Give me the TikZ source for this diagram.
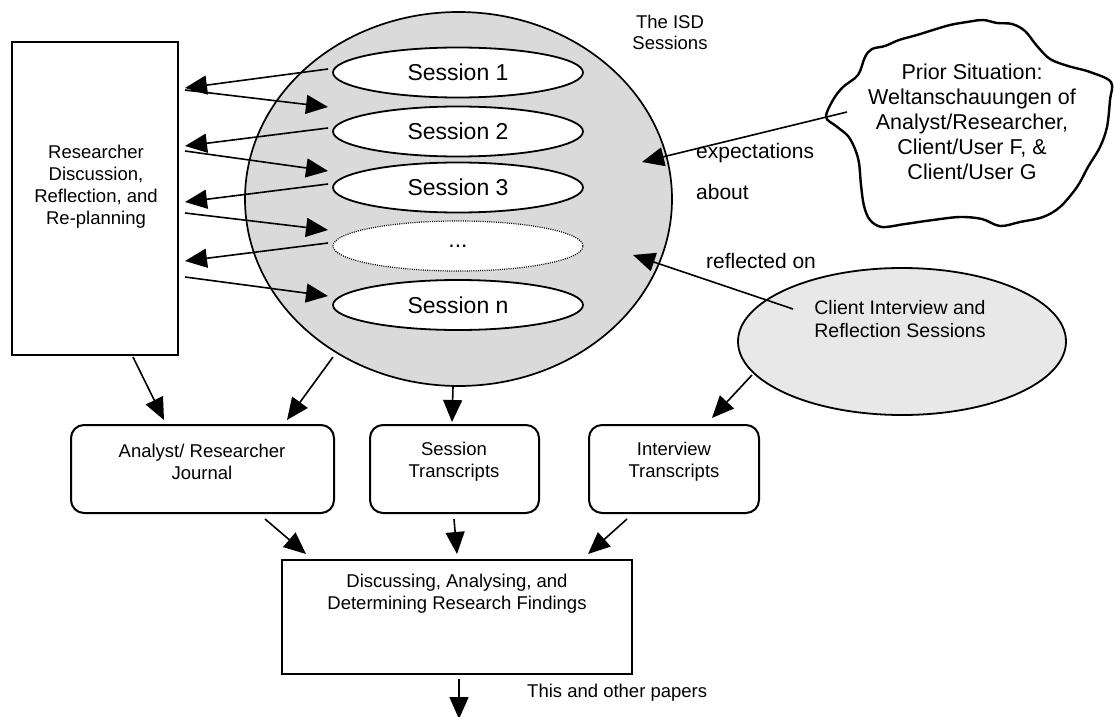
\documentclass[tikz,border=0pt]{standalone}
\usepackage{fontspec}
\setmainfont{Liberation Sans}
\usetikzlibrary{arrows.meta,shapes.geometric}
\definecolor{isdgray}{RGB}{218,218,218}
\definecolor{cligray}{RGB}{232,232,232}
\begin{document}
\begin{tikzpicture}[x=1pt,y=-1pt,
  arr/.style={line width=1.6pt,-{Triangle[length=22pt,width=19pt]}},
  txt/.style={align=center,inner sep=0pt,font=\fontsize{18.5}{22}\selectfont},
  bigtxt/.style={inner sep=0pt,font=\fontsize{21}{25}\selectfont},
  sess/.style={draw,ellipse,line width=1.8pt,fill=white,minimum width=250pt,minimum height=50pt,inner sep=0pt,font=\fontsize{23}{26}\selectfont},
  rbox/.style={draw,rounded corners=13pt,line width=2pt,minimum height=88pt,inner sep=0pt},
  sbox/.style={draw,line width=1.9pt,inner sep=0pt},
]
\useasboundingbox (0,0) rectangle (1114,717);

% left box
\node[sbox,minimum width=166pt,minimum height=313pt] (R) at (95,198.5) {};
\node[txt] (Rt) at (96,187) {Researcher\\Discussion,\\Reflection, and\\Re-planning};

% big ISD circle
\node[draw,ellipse,fill=isdgray,line width=1.7pt,minimum width=427pt,minimum height=374pt,inner sep=0pt] (C) at (458.5,199) {};
\node[txt,font=\fontsize{18.5}{21}\selectfont] (Ct) at (670,32.5) {The ISD\\Sessions};

% sessions
\node[sess] (s1) at (458,72.5) {Session 1};
\node[sess] (s2) at (458,131.5) {Session 2};
\node[sess] (s3) at (458,187.5) {Session 3};
\node[sess,line width=1.2pt,dash pattern=on 1pt off 1.2pt] (s4) at (458,246) {...};
\node[sess] (sn) at (458,305) {Session n};

% arrow end points between left box and sessions
\coordinate (a1) at (328,69);  \coordinate (b1) at (185,88);
\coordinate (a2) at (185,90);  \coordinate (b2) at (328,107);
\coordinate (a3) at (328,128); \coordinate (b3) at (185,146);
\coordinate (a4) at (185,151); \coordinate (b4) at (328,171);
\coordinate (a5) at (328,184); \coordinate (b5) at (185,202);
\coordinate (a6) at (185,213); \coordinate (b6) at (328,230);
\coordinate (a7) at (328,243); \coordinate (b7) at (185,261);
\coordinate (a8) at (185,277); \coordinate (b8) at (328,296);
\foreach \i in {1,...,8} {\draw[arr] (a\i) -- (b\i);}

% cloud
\draw[line width=2.4pt,line join=round,fill=white] plot[smooth cycle,tension=0.55] coordinates {
(826,117) (833,100) (843,87) (858,75) (865,57) (872,49) (885,46) (899,40) (917,35) (933,30) (950,25) (967,22) (983,20) (997,23) (1012,24) (1025,31) (1037,46) (1050,59) (1068,66) (1090,72) (1111,82) (1110,100) (1107,127) (1100,147) (1088,167) (1077,187) (1060,207) (1043,217) (1020,222) (1000,226) (982,219) (960,217) (933,220) (905,224) (882,227) (870,220) (864,206) (861,185) (859,163) (855,149) (848,136) (836,126)};
\node[align=center,inner sep=0pt,font=\fontsize{21.5}{25}\selectfont] (P) at (972,122) {Prior Situation:\\Weltanschauungen of\\Analyst/Researcher,\\Client/User F, \&\\Client/User G};

\coordinate (pe) at (847,112); \coordinate (ce) at (642,162);
\draw[arr] (pe) -- (ce);
\node[bigtxt,anchor=west] (exp) at (696,153) {expectations};
\node[bigtxt,anchor=west] (abt) at (696,192) {about};

% client interview ellipse
\node[draw,ellipse,fill=cligray,line width=1.8pt,minimum width=328pt,minimum height=147pt,inner sep=0pt] (CI) at (902,341.5) {};
\node[align=center,inner sep=0pt,font=\fontsize{19.5}{23}\selectfont] (CIt) at (900,319.5) {Client Interview and\\Reflection Sessions};
\coordinate (ci1) at (793,309); \coordinate (ci2) at (633,255);
\draw[arr] (ci1) -- (ci2);
\node[bigtxt,anchor=west] (refl) at (706,261) {reflected on};

% middle boxes
\node[rbox,minimum width=263pt] (AJ) at (202.5,469) {};
\node[txt] (AJt) at (202,462) {Analyst/ Researcher\\Journal};
\node[rbox,minimum width=169pt] (ST) at (454.5,469) {};
\node[txt] (STt) at (454,462) {Session\\Transcripts};
\node[rbox,minimum width=170pt] (IT) at (674,469) {};
\node[txt] (ITt) at (674,462) {Interview\\Transcripts};

\coordinate (r1) at (133,357); \coordinate (r2) at (164,420);
\draw[arr] (r1) -- (r2);
\coordinate (c1) at (333,357); \coordinate (c2) at (287,420);
\draw[arr] (c1) -- (c2);
\coordinate (c3) at (453,387); \coordinate (c4) at (452,422);
\draw[arr] (c3) -- (c4);
\coordinate (i1) at (752,375); \coordinate (i2) at (712,418);
\draw[arr] (i1) -- (i2);

% bottom box
\node[sbox,minimum width=350pt,minimum height=114pt] (D) at (457,617) {};
\node[txt] (Dt) at (457,594) {Discussing, Analysing, and\\Determining Research Findings};

\coordinate (d1) at (265,519); \coordinate (d2) at (306,554);
\draw[arr] (d1) -- (d2);
\coordinate (d3) at (454,519); \coordinate (d4) at (457,554);
\draw[arr] (d3) -- (d4);
\coordinate (d5) at (627,519); \coordinate (d6) at (588,554);
\draw[arr] (d5) -- (d6);
\coordinate (o1) at (459,679); \coordinate (o2) at (459,719);
\draw[arr] (o1) -- (o2);
\node[txt,anchor=west] (pap) at (527,693) {This and other papers};
\end{tikzpicture}
\end{document}
